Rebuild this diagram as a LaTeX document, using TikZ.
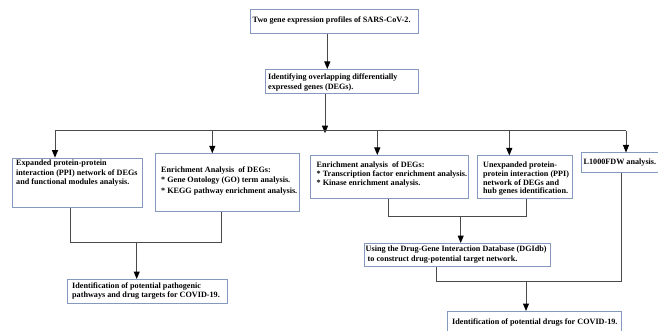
\documentclass[tikz,border=0pt]{standalone}
\usepackage{fontspec}
\setmainfont{Liberation Serif}
\usetikzlibrary{arrows.meta}
\definecolor{boxc}{HTML}{8599BF}
\definecolor{linec}{HTML}{4A4A4A}
\tikzset{
  box/.style={draw=boxc, line width=1pt, fill=white, inner sep=0pt, anchor=north west},
  txt/.style={inner sep=0pt, anchor=west, align=left, font=\fontsize{8.15}{9.5}\selectfont\bfseries},
  ls/.style={font=\fontsize{8.15}{#1}\selectfont\bfseries},
  conn/.style={draw=linec, line width=1pt},
  arr/.style={conn, -{Triangle[length=7.5pt,width=6pt,color=black]}}
}
\begin{document}
\begin{tikzpicture}[x=1pt,y=-1pt]
\useasboundingbox (0,0) rectangle (658,331);
% boxes
\node[box, minimum width=168pt, minimum height=24pt] (b1) at (250,9.3) {};
\node[box, minimum width=153pt, minimum height=24pt] (b2) at (265,69) {};
\node[box, minimum width=130.6pt, minimum height=49.6pt] (b3) at (11.7,157.7) {};
\node[box, minimum width=144pt, minimum height=57.4pt] (b4) at (155,153.3) {};
\node[box, minimum width=158pt, minimum height=43pt] (b5) at (310,155) {};
\node[box, minimum width=95pt, minimum height=42pt] (b6) at (477,155.5) {};
\node[box, minimum width=78pt, minimum height=19.5pt] (b7) at (581,152.5) {};
\node[box, minimum width=160pt, minimum height=24pt] (b8) at (67,279) {};
\node[box, minimum width=186pt, minimum height=23pt] (b9) at (364,243) {};
\node[box, minimum width=174pt, minimum height=26pt] (b10) at (447,311) {};
% texts
\node[txt] (t1) at (252.5,20.5) {Two gene expression profiles of SARS-CoV-2.};
\node[txt, anchor=north west, ls=10.5] (t2) at (268,73.5) {Identifying overlapping differentially\\expressed genes (DEGs).};
\node[txt, anchor=north west, ls=9.5] (t3) at (16,159.7) {Expanded protein-protein\\interaction (PPI) network of DEGs\\and functional modules analysis.};
\node[txt, anchor=north west, ls=10.4] (t4) at (161,166.3) {Enrichment Analysis\ \ of DEGs:\\* Gene Ontology (GO) term analysis.\\* KEGG pathway enrichment analysis.};
\node[txt, anchor=north west, ls=9] (t5) at (316.5,162) {Enrichment analysis\ \ of DEGs:\\* Transcription factor enrichment analysis.\\* Kinase enrichment analysis.};
\node[txt, anchor=north west, ls=8.7] (t6) at (483,162) {Unexpanded protein-\\protein interaction (PPI)\\network of DEGs and\\hub genes identification.};
\node[txt] (t7) at (583.5,163) {L1000FDW analysis.};
\node[txt, anchor=north west, ls=9] (t8) at (72,283) {Identification of potential pathogenic\\pathways and drug targets for COVID-19.};
\node[txt, anchor=north west, ls=10] (t9) at (365.5,246) {Using the Drug-Gene Interaction Database (DGIdb)\\\ to construct drug-potential target network.};
\node[txt] (t10) at (452,322.5) {Identification of potential drugs for COVID-19.};
% helper coordinates
\coordinate (bus) at (0,130.7);
\coordinate (m34) at (0,242.7);
\coordinate (m56) at (0,216.7);
\coordinate (m9) at (0,281.7);
% top chain
\draw[arr] (327.3,0 |- b1.south) coordinate (s1) -- (s1 |- b2.north);
\draw[arr] (325,0 |- b2.south) coordinate (s2) -- ([yshift=-2.5pt]s2 |- bus);
\draw[conn] (55,0 |- bus) coordinate (busl) -- (626,0 |- bus) coordinate (busr);
% drops
\draw[arr] (busl) -- (busl |- b3.north);
\draw[arr] (212.3,0 |- bus) coordinate (d4) -- (d4 |- b4.north);
\draw[arr] (377.3,0 |- bus) coordinate (d5) -- (d5 |- b5.north);
\draw[arr] (509.3,0 |- bus) coordinate (d6) -- (d6 |- b6.north);
\draw[arr] (busr) -- (busr |- b7.north);
% b3/b4 merge
\draw[conn] (70.7,0 |- b3.south) coordinate (s3) -- (s3 |- m34) -- (221,0 |- m34) coordinate (c4) -- (c4 |- b4.south);
\draw[arr] (136.7,0 |- m34) coordinate (c8) -- (c8 |- b8.north);
% b5/b6 merge
\draw[conn] (388.3,0 |- b5.south) coordinate (s5) -- (s5 |- m56) -- (526.7,0 |- m56) coordinate (c6) -- (c6 |- b6.south);
\draw[arr] (460.7,0 |- m56) coordinate (c9) -- (c9 |- b9.north);
% b9/b7 merge
\draw[conn] (436,0 |- b9.south) coordinate (s9) -- (s9 |- m9) -- (621.7,0 |- m9) coordinate (c7) -- (c7 |- b7.south);
\draw[arr] (526,0 |- m9) coordinate (c10) -- (c10 |- b10.north);
\end{tikzpicture}
\end{document}
